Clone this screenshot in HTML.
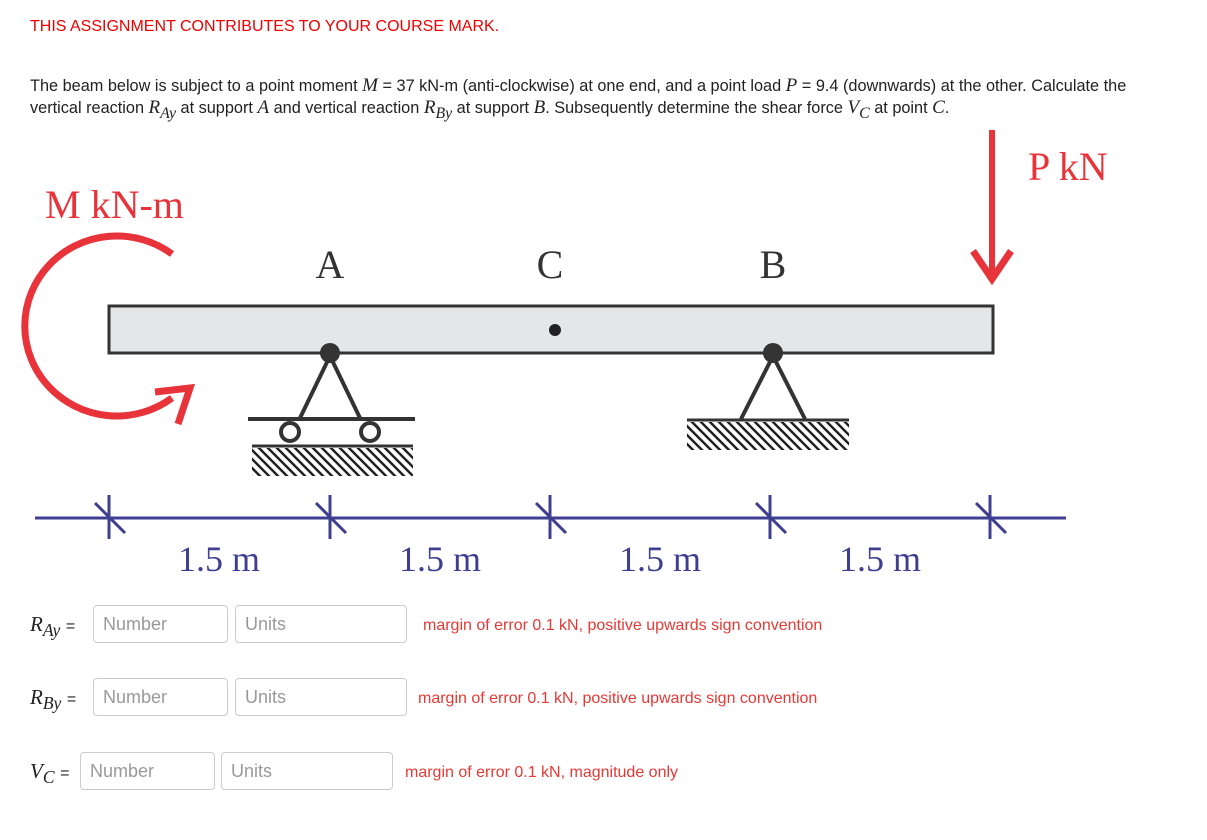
<!DOCTYPE html>
<html><head><style>
body{margin:0;width:1207px;height:840px;background:#fff;font-family:"Liberation Sans",sans-serif;position:relative;overflow:hidden}
.t{position:absolute;white-space:nowrap}
.inp{position:absolute;height:38px;border:1px solid #ccc;border-radius:4px;box-sizing:border-box;color:#999;font-size:18px;line-height:36px;padding-left:9px}
.m{font-family:"Liberation Serif",serif;font-style:italic}
.lbl{position:absolute;font-size:20px;color:#222}
.err{position:absolute;color:#e53935;font-size:16px}
</style></head><body>
<div class="t" style="left:30px;top:18px;font-size:16px;color:#e00">THIS ASSIGNMENT CONTRIBUTES TO YOUR COURSE MARK.</div>
<div class="t" style="left:30px;top:75px;font-size:16.3px;color:#222">The beam below is subject to a point moment <span class="m" style="font-size:19px">M</span> = 37 kN-m (anti-clockwise) at one end, and a point load <span class="m" style="font-size:19px">P</span> = 9.4 (downwards) at the other. Calculate the</div>
<div class="t" style="left:30px;top:97px;font-size:16.3px;color:#222">vertical reaction <span class="m" style="font-size:19px">R<sub>Ay</sub></span> at support <span class="m" style="font-size:19px">A</span> and vertical reaction <span class="m" style="font-size:19px">R<sub>By</sub></span> at support <span class="m" style="font-size:19px">B</span>. Subsequently determine the shear force <span class="m" style="font-size:19px">V<sub>C</sub></span> at point <span class="m" style="font-size:19px">C</span>.</div>
<svg style="position:absolute;left:0;top:0" width="1207" height="600">
<defs><pattern id="h" width="9" height="9" patternUnits="userSpaceOnUse"><path d="M-2,-2 L11,11 M-2,7 L2,11 M7,-2 L11,2" stroke="#222" stroke-width="2.5"/></pattern></defs>
<g font-family="Liberation Serif,serif" font-size="40">
<text x="45" y="218" fill="#e8333a">M kN-m</text>
<text x="1028" y="180" fill="#e8333a">P kN</text>
<text x="330" y="278" text-anchor="middle" fill="#333">A</text>
<text x="550" y="278" text-anchor="middle" fill="#333">C</text>
<text x="773" y="278" text-anchor="middle" fill="#333">B</text>
</g>
<path d="M172,254 A92,90 0 1 0 172,398" fill="none" stroke="#e8333a" stroke-width="7"/>
<path d="M155,392 L190,388 L178,424" fill="none" stroke="#e8333a" stroke-width="7"/>
<line x1="992" y1="130" x2="992" y2="280" stroke="#e8333a" stroke-width="6"/>
<path d="M973,251 L992,279 L1011,251" fill="none" stroke="#e8333a" stroke-width="7"/>
<rect x="109" y="306" width="884" height="47" fill="#e5e6e8" stroke="#333" stroke-width="3"/>
<circle cx="555" cy="330" r="6" fill="#222"/>
<g stroke="#333" stroke-width="4" fill="none">
<path d="M300,418 L330,356 L360,418"/>
<line x1="248" y1="419" x2="415" y2="419"/>
<circle cx="290" cy="432" r="9" fill="#fff"/>
<circle cx="370" cy="432" r="9" fill="#fff"/>
<line x1="252" y1="446" x2="413" y2="446" stroke-width="3"/>
<path d="M741,419 L773,356 L805,419"/>
<line x1="687" y1="420" x2="849" y2="420" stroke-width="3"/>
</g>
<rect x="252" y="448" width="161" height="28" fill="url(#h)"/>
<rect x="687" y="422" width="162" height="28" fill="url(#h)"/>
<circle cx="330" cy="353" r="10" fill="#333"/>
<circle cx="773" cy="353" r="10" fill="#333"/>
<g stroke="#3f3f91" stroke-width="3">
<line x1="35" y1="518" x2="1066" y2="518"/>
<path d="M109,495 V539 M95,503 L125,533"/>
<path d="M330,495 V539 M316,503 L346,533"/>
<path d="M550,495 V539 M536,503 L566,533"/>
<path d="M770,495 V539 M756,503 L786,533"/>
<path d="M990,495 V539 M976,503 L1006,533"/>
</g>
<g font-family="Liberation Serif,serif" font-size="36" fill="#3f3f91" text-anchor="middle">
<text x="219" y="571">1.5 m</text><text x="440" y="571">1.5 m</text><text x="660" y="571">1.5 m</text><text x="880" y="571">1.5 m</text>
</g>
</svg>
<div class="lbl" style="left:30px;top:612px"><span class="m" style="font-size:21px">R<sub>Ay</sub></span> <span style="font-size:16px">=</span></div>
<div class="inp" style="left:93px;top:605px;width:135px">Number</div>
<div class="inp" style="left:235px;top:605px;width:172px">Units</div>
<div class="err" style="left:423px;top:617px">margin of error 0.1 kN, positive upwards sign convention</div>
<div class="lbl" style="left:30px;top:685px"><span class="m" style="font-size:21px">R<sub>By</sub></span> <span style="font-size:16px">=</span></div>
<div class="inp" style="left:93px;top:678px;width:135px">Number</div>
<div class="inp" style="left:235px;top:678px;width:172px">Units</div>
<div class="err" style="left:418px;top:690px">margin of error 0.1 kN, positive upwards sign convention</div>
<div class="lbl" style="left:30px;top:759px"><span class="m" style="font-size:21px">V<sub>C</sub></span> <span style="font-size:16px">=</span></div>
<div class="inp" style="left:80px;top:752px;width:135px">Number</div>
<div class="inp" style="left:221px;top:752px;width:172px">Units</div>
<div class="err" style="left:405px;top:764px">margin of error 0.1 kN, magnitude only</div>
</body></html>
